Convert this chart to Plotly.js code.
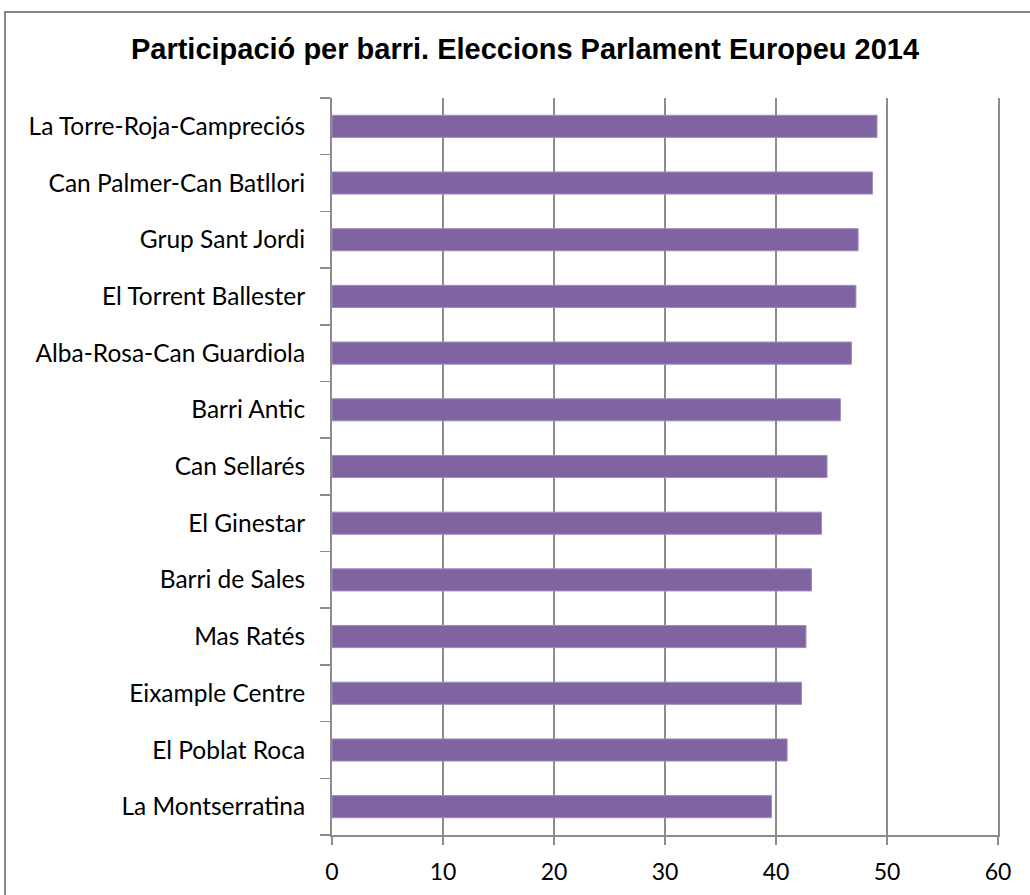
<!DOCTYPE html>
<html>
<head>
<meta charset="utf-8">
<script src="https://cdn.plot.ly/plotly-3.0.1.min.js"></script>
<style>html,body{margin:0;padding:0;background:#fff;}#chart{width:1030px;height:895px;}</style>
</head>
<body>
<div id="chart"></div>
<script>
const barris = [
  "La Torre-Roja-Campreciós",
  "Can Palmer-Can Batllori",
  "Grup Sant Jordi",
  "El Torrent Ballester",
  "Alba-Rosa-Can Guardiola",
  "Barri Antic",
  "Can Sellarés",
  "El Ginestar",
  "Barri de Sales",
  "Mas Ratés",
  "Eixample Centre",
  "El Poblat Roca",
  "La Montserratina"
];
const participacio = [49.1, 48.7, 47.4, 47.2, 46.8, 45.8, 44.6, 44.1, 43.2, 42.7, 42.3, 41.0, 39.6];
const xTicks = [0, 10, 20, 30, 40, 50, 60];
const titol = "Participació per barri. Eleccions Parlament Europeu 2014";

const trace = {
  type: "bar",
  orientation: "h",
  y: barris,
  x: participacio,
  marker: {color: "#8064A2", line: {color: "#A08CC0", width: 1}},
  hoverinfo: "x+y"
};

const layout = {
  width: 1030,
  height: 895,
  margin: {l: 332, r: 32, t: 98, b: 60},
  paper_bgcolor: "#ffffff",
  plot_bgcolor: "#ffffff",
  showlegend: false,
  bargap: 0.61,
  font: {family: "Lato, 'Open Sans', sans-serif", size: 18, color: "#000"},
  title: {
    text: "<b>" + titol + "</b>",
    font: {family: "'Liberation Sans', Arial, sans-serif", size: 29, color: "#000"},
    x: 525 / 1030, xref: "container", xanchor: "center",
    y: 1 - 49/895, yref: "container", yanchor: "middle"
  },
  xaxis: {
    range: [0, 60],
    tickvals: xTicks,
    ticktext: xTicks.map(String),
    showgrid: true,
    gridcolor: "#8c8c8c",
    gridwidth: 1.5,
    zeroline: false,
    showline: true,
    linecolor: "#8c8c8c",
    linewidth: 2,
    ticks: "outside",
    ticklen: 8,
    tickwidth: 1.5,
    tickcolor: "#8c8c8c",
    ticklabelstandoff: 7,
    tickfont: {family: "Lato, sans-serif", size: 23, color: "#000"},
    fixedrange: true
  },
  yaxis: {
    type: "category",
    categoryorder: "array",
    categoryarray: barris.slice().reverse(),
    autorange: true,
    showgrid: false,
    zeroline: false,
    showline: true,
    mirror: true,
    linecolor: "#8c8c8c",
    linewidth: 2,
    ticks: "outside",
    tickson: "boundaries",
    ticklen: 10,
    tickwidth: 1.5,
    tickcolor: "#8c8c8c",
    ticklabelstandoff: 20,
    tickfont: {family: "Lato, sans-serif", size: 24.5, color: "#000"},
    fixedrange: true
  },
  shapes: [{
    type: "rect",
    xref: "paper", yref: "paper",
    x0: (5 - 332) / 666, x1: 1.2,
    y0: -0.2, y1: 1 + (98 - 12) / 737,
    line: {color: "#868686", width: 2},
    fillcolor: "rgba(0,0,0,0)",
    layer: "below"
  }]
};

Plotly.newPlot("chart", [trace], layout, {displayModeBar: false, staticPlot: true});
</script>
</body>
</html>
